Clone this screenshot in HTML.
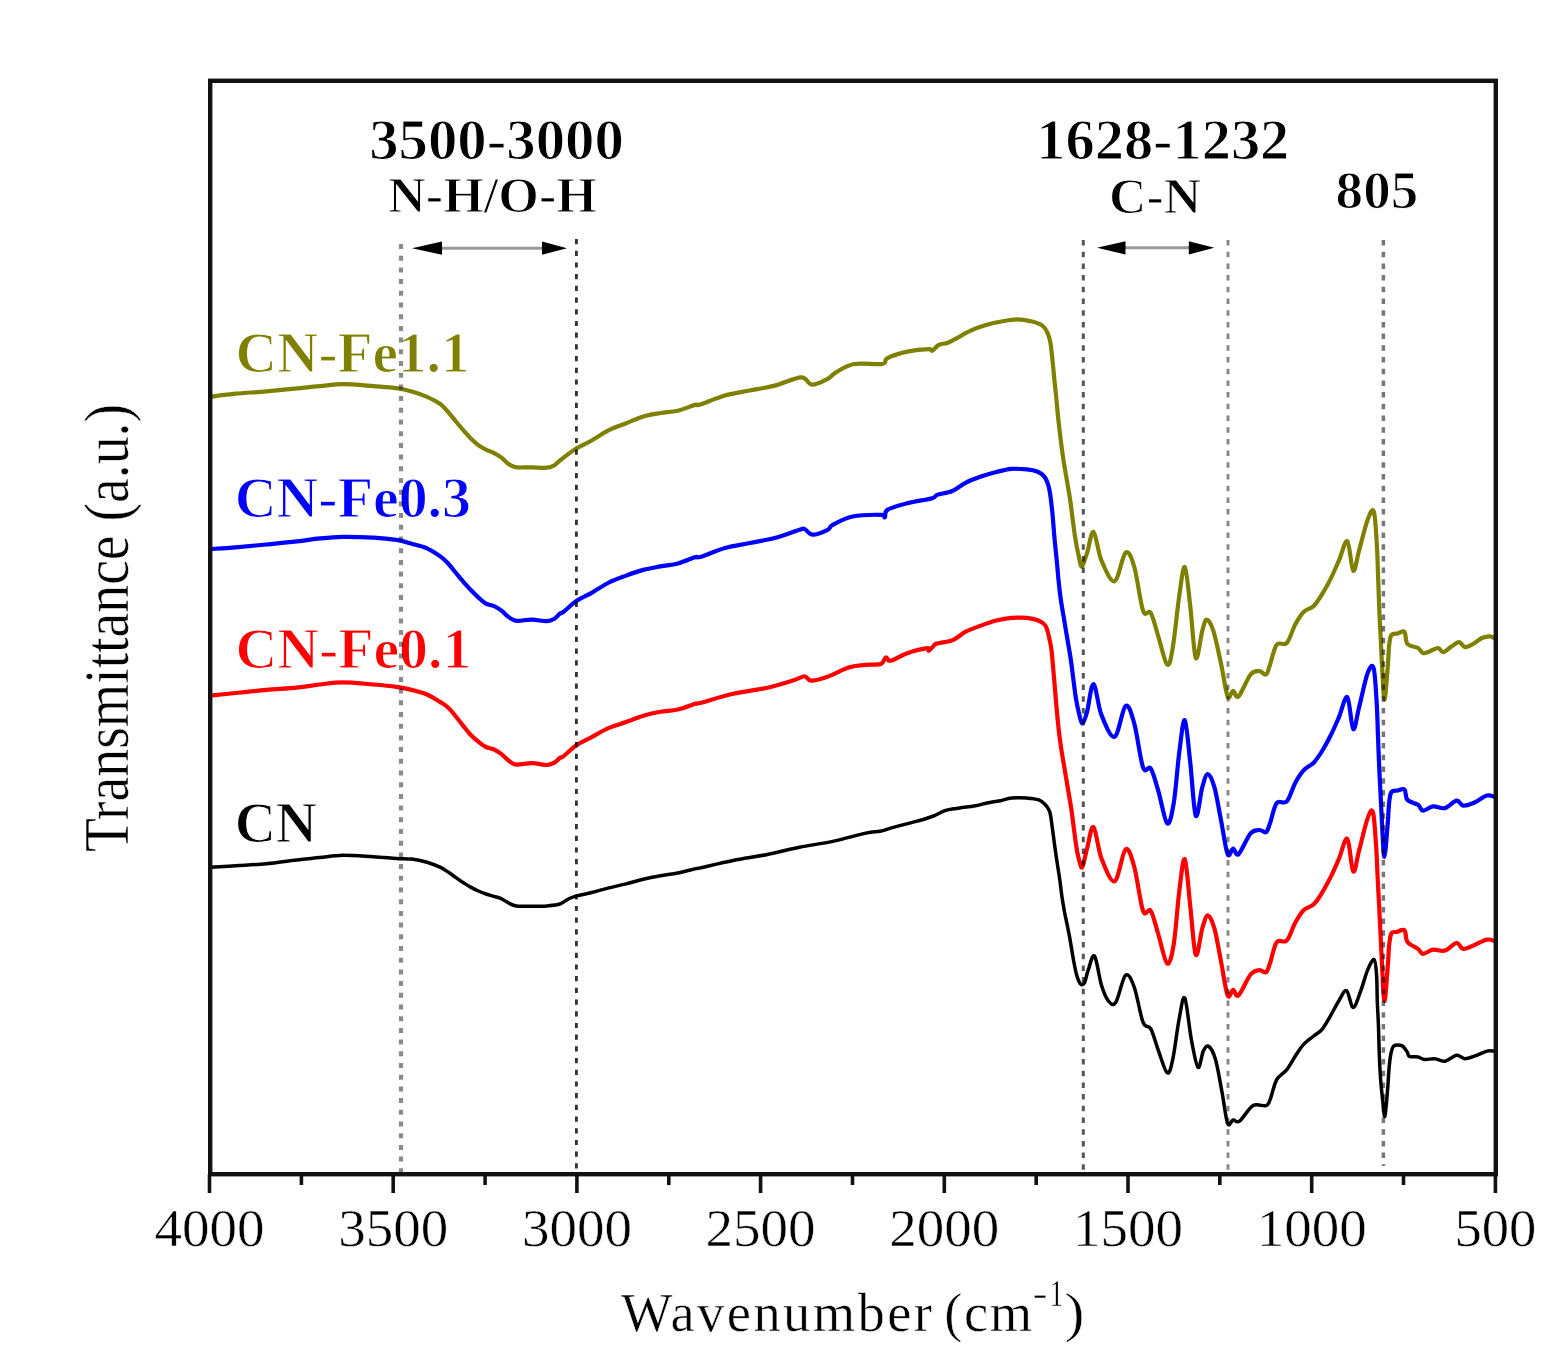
<!DOCTYPE html>
<html><head><meta charset="utf-8"><title>FTIR spectra</title>
<style>html,body{margin:0;padding:0;background:#fff;}body{width:1568px;height:1368px;overflow:hidden;}svg{display:block;}</style>
</head><body><div id="w"><svg width="1568" height="1368" viewBox="0 0 1568 1368" font-family="'Liberation Serif', 'Times New Roman', serif"><rect x="0" y="0" width="1568" height="1368" fill="#fff"/><path d="M210.2,396.8 C214.4,396.3 226.2,394.6 235.6,393.7 C244.9,392.8 256.1,392.3 266.3,391.4 C276.5,390.5 288.0,389.3 296.9,388.4 C305.8,387.5 312.1,386.8 319.8,386.1 C327.5,385.4 333.9,384.1 342.8,384.1 C351.7,384.1 364.5,385.4 373.4,386.1 C382.3,386.8 390.0,387.2 396.4,388.1 C402.8,389.0 406.6,389.9 411.7,391.4 C416.8,392.8 422.3,394.7 427.0,396.8 C431.7,398.9 436.6,401.4 440.0,403.8 C443.4,406.2 445.1,408.7 447.7,411.5 C450.2,414.3 452.8,417.6 455.3,420.7 C457.9,423.8 460.4,426.9 463.0,429.8 C465.6,432.7 468.1,435.8 470.6,438.3 C473.2,440.9 475.8,443.2 478.3,445.1 C480.9,447.0 483.3,448.4 485.9,449.7 C488.4,451.0 491.1,451.5 493.6,452.8 C496.2,454.1 498.6,455.5 501.2,457.4 C503.8,459.3 506.3,462.6 508.9,464.3 C511.4,466.0 512.7,466.8 516.5,467.3 C520.3,467.8 526.7,467.2 531.8,467.3 C536.9,467.4 543.3,468.1 547.1,467.7 C550.9,467.3 552.6,466.2 554.8,465.0 C556.9,463.8 556.7,462.9 560.0,460.4 C563.3,457.8 569.1,453.0 574.4,449.7 C579.7,446.4 586.0,443.8 591.7,440.5 C597.5,437.2 603.2,433.1 608.9,430.2 C614.6,427.3 620.4,425.6 626.1,423.3 C631.8,421.0 637.6,418.1 643.3,416.4 C649.0,414.7 654.8,413.9 660.5,413.0 C666.2,412.1 672.0,412.1 677.8,410.7 C683.5,409.3 691.3,405.9 695.0,404.9 C698.7,403.9 695.0,406.2 700.0,404.6 C705.0,403.0 716.6,397.9 724.9,395.5 C733.2,393.1 741.5,392.1 749.8,390.5 C758.1,388.9 766.0,387.8 774.6,385.6 C783.2,383.4 795.0,377.5 801.2,377.3 C807.4,377.1 807.5,384.4 811.9,384.7 C816.3,385.0 823.7,381.0 827.7,378.9 C831.7,376.8 831.6,374.8 836.0,372.3 C840.4,369.8 846.5,365.4 854.2,364.0 C861.9,362.6 876.9,365.0 882.4,364.0 C887.9,363.0 883.2,360.3 887.4,358.2 C891.5,356.1 900.4,353.1 907.3,351.6 C914.2,350.1 924.8,349.2 928.9,349.1 C933.0,349.0 930.6,351.4 932.2,350.7 C933.9,350.0 936.3,346.2 938.8,344.9 C941.3,343.6 944.5,343.9 947.3,342.9 C950.1,341.9 951.5,340.9 955.4,338.9 C959.3,336.9 965.6,333.0 970.7,330.7 C975.8,328.4 980.9,326.6 986.0,325.1 C991.1,323.6 996.3,322.4 1001.4,321.5 C1006.5,320.6 1011.7,319.4 1016.8,319.4 C1021.9,319.4 1027.8,320.5 1032.1,321.5 C1036.4,322.5 1039.8,323.7 1042.4,325.6 C1045.0,327.5 1046.2,329.9 1047.5,332.8 C1048.8,335.7 1049.7,338.2 1050.5,343.0 C1051.3,347.8 1051.9,354.9 1052.6,361.4 C1053.3,367.9 1053.9,375.1 1054.6,381.9 C1055.3,388.7 1056.1,396.0 1056.7,402.4 C1057.3,408.8 1057.7,413.8 1058.4,420.0 C1059.1,426.2 1059.9,433.1 1060.7,439.7 C1061.5,446.3 1062.4,452.9 1063.4,459.5 C1064.4,466.1 1065.6,472.6 1066.7,479.2 C1067.8,485.8 1069.0,492.3 1070.0,498.9 C1071.0,505.5 1071.7,512.1 1072.6,518.7 C1073.5,525.3 1074.3,532.3 1075.3,538.4 C1076.3,544.5 1077.5,550.8 1078.6,555.5 C1079.7,560.2 1080.4,566.9 1081.8,566.5 C1083.2,566.1 1085.1,558.6 1087.1,552.9 C1089.0,547.1 1091.1,530.8 1093.5,532.0 C1095.9,533.2 1097.9,552.2 1101.4,560.4 C1104.9,568.6 1110.6,582.5 1114.6,581.2 C1118.6,579.9 1122.3,555.1 1125.6,552.7 C1128.9,550.3 1131.4,557.3 1134.3,567.0 C1137.2,576.7 1140.3,603.1 1143.1,610.8 C1145.8,618.5 1148.2,608.6 1150.8,613.0 C1153.4,617.4 1155.8,628.5 1158.5,637.1 C1161.2,645.7 1164.8,662.8 1167.2,664.6 C1169.6,666.4 1170.7,659.6 1172.7,648.1 C1174.7,636.6 1177.3,609.0 1179.3,595.5 C1181.3,582.0 1183.0,565.2 1184.8,567.0 C1186.6,568.8 1188.5,591.2 1190.3,606.4 C1192.1,621.6 1193.8,654.0 1195.8,658.0 C1197.8,662.0 1200.5,637.0 1202.3,630.6 C1204.1,624.2 1204.9,619.6 1206.7,619.6 C1208.5,619.6 1210.9,623.3 1213.3,630.6 C1215.7,637.9 1218.6,652.5 1221.0,663.5 C1223.4,674.5 1225.6,691.8 1227.6,696.4 C1229.6,701.0 1231.3,690.9 1233.1,690.9 C1234.9,690.9 1235.7,699.1 1238.6,696.4 C1241.5,693.7 1247.1,678.7 1250.6,674.5 C1254.1,670.3 1256.8,671.2 1259.4,671.2 C1262.0,671.2 1264.2,675.6 1266.0,674.5 C1267.8,673.4 1268.2,669.8 1270.0,664.8 C1271.8,659.8 1273.9,648.3 1276.7,644.7 C1279.5,641.1 1283.7,646.4 1286.8,643.0 C1289.9,639.6 1292.4,629.7 1295.2,624.5 C1298.0,619.3 1300.5,615.0 1303.6,611.9 C1306.7,608.8 1310.6,609.0 1313.7,606.0 C1316.8,603.0 1319.3,598.7 1322.1,594.2 C1324.9,589.7 1327.7,584.7 1330.5,579.1 C1333.3,573.5 1336.1,566.9 1338.9,560.6 C1341.7,554.3 1344.9,539.6 1347.3,541.3 C1349.7,543.0 1351.2,569.2 1353.2,570.7 C1355.2,572.2 1356.7,558.9 1359.1,550.5 C1361.5,542.1 1365.0,526.8 1367.5,520.3 C1370.0,513.8 1372.2,507.2 1373.8,511.5 C1375.4,515.8 1376.2,535.1 1376.9,546.0 C1377.6,556.9 1377.7,566.5 1378.1,576.7 C1378.5,586.9 1378.8,597.2 1379.2,607.4 C1379.6,617.6 1380.2,627.8 1380.7,638.0 C1381.2,648.2 1381.6,658.5 1382.2,668.7 C1382.8,678.9 1383.6,699.4 1384.5,699.4 C1385.4,699.4 1386.8,677.7 1387.6,668.7 C1388.4,659.8 1388.5,651.3 1389.1,645.7 C1389.7,640.1 1390.0,637.0 1391.4,635.0 C1392.9,633.0 1395.6,634.0 1397.8,633.5 C1400.0,633.0 1402.9,630.1 1404.5,631.9 C1406.1,633.6 1405.2,641.3 1407.5,644.0 C1409.8,646.7 1415.4,646.5 1418.0,648.0 C1420.6,649.5 1421.0,652.5 1423.0,653.1 C1425.0,653.7 1427.2,652.2 1429.7,651.4 C1432.2,650.5 1435.8,647.9 1438.1,648.0 C1440.3,648.1 1441.0,652.5 1443.2,652.2 C1445.5,651.9 1448.9,648.1 1451.6,646.4 C1454.2,644.7 1456.9,642.0 1459.1,642.1 C1461.3,642.2 1462.6,646.9 1465.0,647.2 C1467.4,647.5 1470.6,645.3 1473.4,643.8 C1476.2,642.3 1479.0,639.2 1481.8,638.0 C1484.6,636.8 1488.0,636.2 1490.2,636.3 C1492.5,636.4 1494.5,638.4 1495.3,638.8" fill="none" stroke="#808000" stroke-width="4.2" stroke-linejoin="round" stroke-linecap="round"/><path d="M210.2,549.1 C214.4,548.8 226.2,548.1 235.6,547.3 C244.9,546.5 256.1,545.5 266.3,544.5 C276.5,543.5 288.0,542.4 296.9,541.4 C305.8,540.4 312.1,539.2 319.8,538.4 C327.5,537.6 333.9,536.9 342.8,536.8 C351.7,536.7 364.5,537.1 373.4,537.6 C382.3,538.1 390.0,538.9 396.4,539.9 C402.8,540.9 406.6,542.3 411.7,543.7 C416.8,545.1 422.3,546.2 427.0,548.3 C431.7,550.4 436.6,553.6 440.0,556.1 C443.4,558.6 445.1,560.3 447.7,563.0 C450.2,565.7 452.8,569.1 455.3,572.2 C457.9,575.3 460.4,578.5 463.0,581.4 C465.6,584.3 468.1,587.1 470.6,589.8 C473.2,592.5 475.8,595.1 478.3,597.4 C480.9,599.7 483.3,602.2 485.9,603.6 C488.4,605.0 491.1,604.8 493.6,605.9 C496.2,607.0 498.6,608.5 501.2,610.4 C503.8,612.3 506.3,615.6 508.9,617.3 C511.4,619.0 512.7,620.4 516.5,620.8 C520.3,621.2 526.7,619.5 531.8,619.6 C536.9,619.7 543.3,621.4 547.1,621.2 C550.9,621.0 552.6,619.8 554.8,618.5 C556.9,617.2 558.6,614.5 560.0,613.5 C561.4,612.5 560.2,614.4 563.0,612.3 C565.8,610.2 571.9,604.0 576.7,600.8 C581.5,597.5 586.3,595.8 591.7,592.8 C597.1,589.8 603.2,585.4 608.9,582.5 C614.6,579.6 620.4,577.7 626.1,575.6 C631.8,573.5 637.6,571.4 643.3,569.9 C649.0,568.4 654.8,567.5 660.5,566.4 C666.2,565.3 672.0,565.0 677.8,563.5 C683.5,562.0 691.3,558.3 695.0,557.2 C698.7,556.1 695.0,558.6 700.0,557.1 C705.0,555.6 716.6,550.4 724.9,548.0 C733.2,545.6 741.5,544.7 749.8,543.0 C758.1,541.3 766.3,540.2 774.6,538.0 C782.9,535.8 794.5,531.3 799.5,529.8 C804.5,528.3 802.3,528.1 804.5,528.9 C806.7,529.7 808.9,534.6 812.8,534.7 C816.7,534.9 824.4,531.4 827.7,529.8 C831.0,528.1 828.6,527.0 832.7,524.8 C836.9,522.6 844.6,518.2 852.6,516.5 C860.6,514.8 875.4,514.7 880.8,514.8 C886.2,514.9 883.8,518.1 884.9,517.3 C886.0,516.5 883.7,512.2 887.4,509.9 C891.1,507.5 899.8,505.1 907.3,503.2 C914.8,501.2 927.2,499.6 932.2,498.2 C937.2,496.8 933.9,496.1 937.2,494.9 C940.6,493.7 947.6,493.0 952.3,491.0 C957.0,489.0 960.8,485.2 965.6,482.8 C970.4,480.4 975.8,478.4 980.9,476.6 C986.0,474.8 991.2,473.3 996.3,472.0 C1001.4,470.7 1006.5,469.3 1011.6,468.9 C1016.7,468.5 1022.7,469.0 1027.0,469.4 C1031.3,469.8 1034.3,470.3 1037.2,471.5 C1040.1,472.7 1042.5,474.2 1044.4,476.6 C1046.3,479.0 1047.5,482.6 1048.5,485.8 C1049.5,489.0 1049.8,491.5 1050.4,496.0 C1051.1,500.5 1051.7,506.2 1052.4,513.0 C1053.1,519.8 1053.7,529.2 1054.4,537.0 C1055.1,544.8 1056.0,553.0 1056.7,560.0 C1057.4,567.0 1057.8,572.7 1058.4,579.0 C1059.1,585.3 1059.6,591.2 1060.6,598.0 C1061.5,604.8 1063.0,612.6 1064.1,619.5 C1065.2,626.4 1066.3,632.6 1067.4,639.2 C1068.5,645.8 1069.7,652.3 1070.7,658.9 C1071.7,665.5 1072.4,672.1 1073.3,678.7 C1074.2,685.3 1074.9,692.5 1075.9,698.4 C1076.9,704.3 1078.1,710.0 1079.2,714.2 C1080.3,718.4 1081.2,723.8 1082.5,723.4 C1083.8,723.0 1085.3,718.2 1087.1,711.6 C1088.9,705.0 1091.1,683.5 1093.5,684.0 C1095.9,684.5 1097.9,706.0 1101.4,714.8 C1104.9,723.6 1110.6,738.2 1114.6,736.7 C1118.6,735.2 1122.3,708.2 1125.6,706.0 C1128.9,703.8 1131.4,713.4 1134.3,723.6 C1137.2,733.9 1140.3,760.0 1143.1,767.5 C1145.8,775.0 1148.2,764.6 1150.8,768.6 C1153.4,772.6 1155.8,782.5 1158.5,791.6 C1161.2,800.7 1164.7,821.6 1167.2,823.4 C1169.8,825.2 1171.8,814.5 1173.8,802.6 C1175.8,790.7 1177.5,765.8 1179.3,752.1 C1181.1,738.4 1183.0,718.5 1184.8,720.3 C1186.6,722.1 1188.5,747.2 1190.3,763.1 C1192.1,779.0 1193.8,811.7 1195.8,815.7 C1197.8,819.7 1200.3,794.2 1202.3,787.2 C1204.3,780.2 1205.8,774.0 1207.8,774.0 C1209.8,774.0 1212.2,779.5 1214.4,787.2 C1216.6,794.9 1218.8,809.0 1221.0,820.1 C1223.2,831.2 1225.6,849.4 1227.6,854.1 C1229.6,858.9 1231.3,848.6 1233.1,848.6 C1234.9,848.6 1235.7,856.7 1238.6,854.1 C1241.5,851.5 1247.1,837.3 1250.6,833.3 C1254.1,829.3 1256.8,830.2 1259.4,830.0 C1262.0,829.8 1264.2,833.3 1266.0,832.2 C1267.8,831.1 1268.2,828.1 1270.0,823.3 C1271.8,818.4 1273.9,806.8 1276.7,803.1 C1279.5,799.5 1283.7,804.8 1286.8,801.4 C1289.9,798.0 1292.4,788.1 1295.2,782.9 C1298.0,777.7 1300.5,773.7 1303.6,770.3 C1306.7,766.9 1310.6,765.9 1313.7,762.7 C1316.8,759.5 1319.3,755.5 1322.1,751.0 C1324.9,746.5 1327.7,741.4 1330.5,735.8 C1333.3,730.2 1336.1,723.7 1338.9,717.3 C1341.7,710.9 1344.9,695.2 1347.3,697.2 C1349.7,699.2 1351.2,727.4 1353.2,729.1 C1355.2,730.8 1356.7,716.5 1359.1,707.2 C1361.5,698.0 1365.1,680.1 1367.5,673.6 C1369.9,667.1 1372.1,663.1 1373.6,668.0 C1375.1,672.9 1376.0,692.0 1376.7,703.0 C1377.4,714.0 1377.5,723.5 1377.9,733.7 C1378.3,743.9 1378.6,754.2 1379.1,764.4 C1379.5,774.6 1380.1,784.8 1380.6,795.0 C1381.1,805.2 1381.5,815.4 1382.1,825.7 C1382.7,836.0 1383.5,857.0 1384.4,856.9 C1385.3,856.8 1386.8,834.0 1387.6,825.0 C1388.4,816.0 1388.5,808.5 1389.1,803.0 C1389.7,797.5 1390.0,794.1 1391.4,792.0 C1392.9,789.9 1395.6,790.9 1397.8,790.5 C1400.0,790.1 1402.9,788.0 1404.5,789.6 C1406.1,791.2 1405.2,797.5 1407.5,800.0 C1409.8,802.5 1415.4,803.0 1418.0,804.8 C1420.6,806.6 1420.5,810.3 1423.0,810.6 C1425.5,810.9 1429.5,806.8 1433.1,806.4 C1436.7,806.0 1440.9,809.1 1444.8,808.1 C1448.7,807.1 1453.5,801.0 1456.6,800.6 C1459.7,800.2 1460.2,805.3 1463.3,805.6 C1466.4,805.9 1471.2,803.9 1475.1,802.2 C1479.0,800.5 1483.5,796.3 1486.9,795.5 C1490.3,794.7 1493.9,796.9 1495.3,797.2" fill="none" stroke="#0000ff" stroke-width="4.2" stroke-linejoin="round" stroke-linecap="round"/><path d="M210.2,695.7 C214.4,695.2 226.2,694.0 235.6,693.0 C244.9,692.0 256.1,690.8 266.3,689.9 C276.5,689.0 288.0,688.5 296.9,687.6 C305.8,686.7 312.1,685.4 319.8,684.5 C327.5,683.6 333.9,682.3 342.8,682.3 C351.7,682.3 364.5,683.8 373.4,684.5 C382.3,685.2 390.0,685.9 396.4,686.8 C402.8,687.7 406.6,688.6 411.7,689.9 C416.8,691.2 422.3,692.5 427.0,694.5 C431.7,696.5 436.6,699.8 440.0,701.9 C443.4,704.0 445.1,704.9 447.7,707.2 C450.2,709.5 452.8,712.6 455.3,715.7 C457.9,718.8 460.4,722.4 463.0,725.6 C465.6,728.8 468.1,732.1 470.6,734.8 C473.2,737.5 475.8,739.7 478.3,741.7 C480.9,743.7 483.3,745.7 485.9,747.0 C488.4,748.3 491.1,748.1 493.6,749.3 C496.2,750.4 498.6,752.0 501.2,753.9 C503.8,755.8 506.3,759.0 508.9,760.8 C511.4,762.6 512.7,764.2 516.5,764.6 C520.3,765.0 526.7,763.0 531.8,763.1 C536.9,763.2 543.3,765.1 547.1,765.0 C550.9,764.9 552.6,763.5 554.8,762.3 C556.9,761.1 558.6,758.7 560.0,757.7 C561.4,756.8 560.2,758.7 563.0,756.6 C565.8,754.5 571.9,748.4 576.7,745.1 C581.5,741.9 586.3,740.0 591.7,737.1 C597.1,734.2 603.2,730.4 608.9,727.9 C614.6,725.4 620.4,724.1 626.1,722.1 C631.8,720.1 637.6,717.5 643.3,715.8 C649.0,714.1 654.8,712.8 660.5,711.8 C666.2,710.8 672.0,710.8 677.8,709.5 C683.5,708.2 691.3,704.9 695.0,703.8 C698.7,702.7 693.6,704.7 700.0,703.0 C706.4,701.3 722.2,696.3 733.2,693.8 C744.2,691.3 756.3,690.2 766.3,688.0 C776.2,685.8 786.5,682.5 792.9,680.6 C799.3,678.7 801.5,676.4 804.5,676.4 C807.5,676.4 807.5,680.5 811.1,680.6 C814.7,680.8 819.6,679.5 826.0,677.3 C832.4,675.1 842.7,669.4 849.3,667.3 C855.9,665.2 860.5,665.3 865.8,664.8 C871.0,664.2 877.5,665.2 880.8,664.0 C884.1,662.8 884.1,657.9 885.7,657.4 C887.4,656.9 887.1,661.4 890.7,660.7 C894.3,660.0 901.2,655.3 907.3,653.2 C913.4,651.1 923.6,648.6 927.2,648.2 C930.8,647.8 927.5,651.4 928.9,650.7 C930.3,650.0 933.6,645.4 935.5,644.1 C937.4,642.8 937.0,643.7 940.0,643.0 C943.0,642.3 949.0,641.8 953.3,639.9 C957.6,638.0 961.0,634.1 965.6,631.7 C970.2,629.3 975.8,627.5 980.9,625.6 C986.0,623.7 991.2,621.8 996.3,620.5 C1001.4,619.2 1006.5,618.3 1011.6,617.9 C1016.7,617.5 1022.5,617.5 1027.0,617.9 C1031.5,618.3 1035.2,619.2 1038.3,620.5 C1041.4,621.8 1043.7,623.2 1045.4,625.6 C1047.1,628.0 1047.5,630.7 1048.5,634.8 C1049.5,638.9 1050.8,645.1 1051.5,650.0 C1052.2,654.9 1052.3,658.7 1052.8,664.0 C1053.3,669.3 1053.8,675.0 1054.4,682.0 C1055.0,689.0 1055.7,697.9 1056.4,706.0 C1057.1,714.1 1058.0,723.2 1058.8,730.5 C1059.6,737.8 1060.4,743.2 1061.4,749.7 C1062.4,756.2 1063.6,762.9 1064.7,769.5 C1065.8,776.1 1066.9,782.6 1068.0,789.2 C1069.1,795.8 1070.3,802.3 1071.3,808.9 C1072.3,815.5 1073.0,822.1 1073.9,828.7 C1074.8,835.3 1075.6,842.7 1076.6,848.4 C1077.6,854.1 1078.9,859.8 1079.9,862.9 C1080.9,866.0 1081.3,869.2 1082.5,866.8 C1083.7,864.4 1085.3,855.0 1087.1,848.4 C1088.9,841.8 1091.1,825.4 1093.5,827.0 C1095.9,828.6 1097.9,849.2 1101.4,858.2 C1104.9,867.2 1110.6,882.8 1114.6,881.3 C1118.6,879.8 1122.3,851.8 1125.6,849.4 C1128.9,847.0 1131.4,856.8 1134.3,867.0 C1137.2,877.2 1140.3,903.6 1143.1,910.9 C1145.8,918.2 1148.2,906.9 1150.8,910.9 C1153.4,914.9 1155.8,926.2 1158.5,935.0 C1161.2,943.8 1164.7,962.0 1167.2,963.5 C1169.8,965.0 1171.8,955.9 1173.8,943.8 C1175.8,931.7 1177.5,905.2 1179.3,891.1 C1181.1,877.0 1183.0,856.7 1184.8,859.3 C1186.6,861.9 1188.5,890.6 1190.3,906.5 C1192.1,922.4 1193.8,951.1 1195.8,954.8 C1197.8,958.4 1200.3,935.0 1202.3,928.4 C1204.3,921.8 1205.8,915.3 1207.8,915.3 C1209.8,915.3 1212.2,920.7 1214.4,928.4 C1216.6,936.1 1218.8,950.1 1221.0,961.3 C1223.2,972.4 1225.6,990.5 1227.6,995.3 C1229.6,1000.1 1231.3,989.9 1233.1,989.9 C1234.9,989.9 1235.7,997.9 1238.6,995.3 C1241.5,992.7 1247.1,978.7 1250.6,974.5 C1254.1,970.3 1256.8,970.5 1259.4,970.1 C1262.0,969.7 1264.2,973.4 1266.0,972.3 C1267.8,971.1 1268.2,968.2 1270.0,963.2 C1271.8,958.2 1273.9,946.0 1276.7,942.2 C1279.5,938.4 1283.7,943.7 1286.8,940.5 C1289.9,937.3 1292.4,927.8 1295.2,922.8 C1298.0,917.8 1300.5,913.3 1303.6,910.2 C1306.7,907.1 1310.6,907.2 1313.7,904.3 C1316.8,901.4 1319.3,897.1 1322.1,892.6 C1324.9,888.1 1327.7,883.0 1330.5,877.4 C1333.3,871.8 1336.1,865.3 1338.9,858.9 C1341.7,852.5 1344.9,836.7 1347.3,838.8 C1349.7,840.9 1351.2,869.5 1353.2,871.5 C1355.2,873.5 1356.7,859.3 1359.1,850.5 C1361.5,841.7 1365.2,825.0 1367.5,818.6 C1369.8,812.2 1371.6,807.7 1373.0,812.3 C1374.4,816.9 1375.3,835.3 1376.1,846.0 C1376.9,856.7 1377.1,866.5 1377.6,876.7 C1378.1,886.9 1378.7,897.2 1379.2,907.4 C1379.7,917.6 1380.2,927.8 1380.7,938.0 C1381.2,948.2 1381.6,958.2 1382.2,968.7 C1382.8,979.2 1383.6,1001.0 1384.5,1001.0 C1385.4,1001.0 1386.8,977.9 1387.6,968.7 C1388.4,959.5 1388.5,951.6 1389.1,945.7 C1389.7,939.8 1390.1,935.7 1391.4,933.4 C1392.7,931.1 1394.6,932.4 1396.8,931.9 C1399.0,931.4 1402.7,928.7 1404.5,930.4 C1406.3,932.1 1405.2,938.9 1407.5,942.0 C1409.8,945.1 1415.4,946.9 1418.0,948.9 C1420.6,950.9 1420.5,953.8 1423.0,953.9 C1425.5,954.0 1429.5,950.2 1433.1,949.7 C1436.7,949.2 1440.9,951.7 1444.8,950.6 C1448.7,949.5 1453.5,943.3 1456.6,943.0 C1459.7,942.7 1460.2,948.6 1463.3,948.9 C1466.4,949.2 1471.2,946.2 1475.1,944.7 C1479.0,943.2 1483.5,940.2 1486.9,939.6 C1490.3,939.0 1493.9,941.0 1495.3,941.3" fill="none" stroke="#ff0000" stroke-width="4.2" stroke-linejoin="round" stroke-linecap="round"/><path d="M210.2,867.3 C214.4,867.0 226.2,866.3 235.6,865.7 C244.9,865.1 256.1,864.7 266.3,863.7 C276.5,862.7 288.0,860.9 296.9,859.9 C305.8,858.9 312.1,858.4 319.8,857.6 C327.5,856.8 333.9,855.4 342.8,855.3 C351.7,855.2 364.5,856.3 373.4,856.8 C382.3,857.3 390.0,858.0 396.4,858.4 C402.8,858.8 406.6,858.5 411.7,859.1 C416.8,859.7 422.3,860.9 427.0,862.2 C431.7,863.6 436.6,865.6 440.0,867.2 C443.4,868.8 445.1,870.1 447.7,871.8 C450.2,873.5 452.8,875.4 455.3,877.2 C457.9,879.0 460.4,880.9 463.0,882.5 C465.6,884.1 468.1,885.7 470.6,887.1 C473.2,888.5 475.8,889.9 478.3,891.0 C480.9,892.1 483.3,893.1 485.9,894.0 C488.4,894.9 491.1,895.5 493.6,896.3 C496.2,897.1 498.6,897.5 501.2,898.6 C503.8,899.8 506.3,902.0 508.9,903.2 C511.4,904.4 512.7,905.4 516.5,905.9 C520.3,906.4 526.7,906.3 531.8,906.3 C536.9,906.3 542.4,906.3 547.1,905.9 C551.8,905.5 556.4,905.2 560.0,904.0 C563.6,902.8 565.9,900.1 568.7,898.8 C571.5,897.4 572.9,896.9 576.7,895.9 C580.5,894.9 586.3,893.8 591.7,892.5 C597.1,891.2 603.2,889.3 608.9,887.9 C614.6,886.5 620.4,885.3 626.1,883.9 C631.8,882.5 637.6,880.6 643.3,879.3 C649.0,877.9 654.8,876.8 660.5,875.8 C666.2,874.8 672.0,874.1 677.8,873.0 C683.5,871.9 691.3,869.8 695.0,868.9 C698.7,868.0 693.6,869.3 700.0,867.9 C706.4,866.5 722.2,862.7 733.2,860.5 C744.2,858.3 755.2,856.9 766.3,854.7 C777.3,852.5 788.4,849.4 799.5,847.2 C810.6,845.0 821.7,843.8 832.7,841.4 C843.8,839.0 857.9,834.8 865.8,833.1 C873.7,831.4 875.7,832.2 880.0,831.3 C884.3,830.4 886.4,829.3 891.5,827.9 C896.6,826.5 905.5,824.2 910.6,822.9 C915.7,821.5 918.3,820.9 922.1,819.8 C925.9,818.6 929.8,817.5 933.6,816.0 C937.4,814.5 941.2,812.0 945.0,810.7 C948.8,809.4 951.4,809.2 956.5,808.4 C961.6,807.6 970.5,806.6 975.6,805.7 C980.7,804.8 983.0,803.8 987.1,803.0 C991.2,802.2 995.9,801.5 1000.0,800.7 C1004.1,799.9 1007.1,798.5 1011.6,798.1 C1016.1,797.7 1022.5,797.8 1027.0,798.1 C1031.5,798.4 1035.2,798.6 1038.3,799.7 C1041.4,800.8 1043.5,802.8 1045.4,804.8 C1047.3,806.8 1048.7,808.3 1049.8,812.0 C1050.9,815.7 1051.4,821.5 1052.2,827.0 C1053.0,832.5 1053.8,839.0 1054.6,845.0 C1055.4,851.0 1056.3,857.2 1057.2,863.0 C1058.1,868.8 1059.0,874.3 1059.8,880.0 C1060.6,885.7 1061.2,891.7 1062.0,897.0 C1062.8,902.3 1063.7,907.5 1064.5,912.0 C1065.3,916.5 1066.1,919.5 1067.0,924.0 C1067.9,928.5 1069.0,933.4 1070.0,939.2 C1071.0,945.0 1072.2,953.0 1073.3,958.9 C1074.4,964.8 1075.4,970.5 1076.6,974.7 C1077.8,978.9 1079.2,982.6 1080.5,983.9 C1081.8,985.2 1083.2,985.0 1084.5,982.6 C1085.8,980.2 1086.7,973.9 1088.4,969.5 C1090.1,965.1 1092.3,953.4 1094.5,956.0 C1096.7,958.6 1099.2,977.7 1101.4,985.1 C1103.7,992.5 1105.6,997.5 1108.0,1000.4 C1110.4,1003.3 1112.8,1006.8 1115.7,1002.6 C1118.6,998.4 1122.5,977.8 1125.6,975.2 C1128.7,972.7 1131.4,979.4 1134.3,987.3 C1137.2,995.2 1140.3,1015.5 1143.1,1022.4 C1145.8,1029.3 1148.2,1024.2 1150.8,1028.9 C1153.4,1033.7 1155.8,1043.6 1158.5,1050.9 C1161.2,1058.2 1164.8,1071.3 1167.2,1072.8 C1169.6,1074.2 1170.7,1068.7 1172.7,1059.6 C1174.7,1050.5 1177.3,1028.2 1179.3,1018.0 C1181.3,1007.8 1182.8,994.6 1184.8,998.2 C1186.8,1001.9 1189.2,1028.4 1191.4,1039.9 C1193.6,1051.4 1196.0,1065.5 1198.0,1067.3 C1200.0,1069.1 1201.6,1054.4 1203.4,1050.9 C1205.2,1047.4 1206.9,1045.0 1208.9,1046.5 C1210.9,1048.0 1213.3,1051.9 1215.5,1059.6 C1217.7,1067.3 1220.1,1082.0 1222.1,1092.6 C1224.1,1103.2 1225.8,1118.7 1227.6,1123.3 C1229.4,1127.9 1231.1,1120.4 1233.1,1120.0 C1235.1,1119.6 1236.3,1123.5 1239.6,1121.1 C1242.9,1118.7 1248.4,1108.3 1252.8,1105.7 C1257.2,1103.1 1263.1,1106.7 1266.0,1105.7 C1268.9,1104.7 1268.2,1104.2 1270.0,1099.9 C1271.8,1095.6 1273.9,1084.8 1276.7,1079.7 C1279.5,1074.7 1283.7,1073.5 1286.8,1069.6 C1289.9,1065.7 1292.4,1060.4 1295.2,1056.2 C1298.0,1052.0 1300.5,1047.8 1303.6,1044.4 C1306.7,1041.0 1310.6,1038.5 1313.7,1036.0 C1316.8,1033.5 1319.3,1032.7 1322.1,1029.3 C1324.9,1025.9 1327.7,1020.6 1330.5,1015.8 C1333.3,1011.0 1336.2,1004.9 1338.9,1000.7 C1341.6,996.5 1344.1,989.5 1346.5,990.6 C1348.9,991.7 1350.8,1007.4 1353.2,1007.4 C1355.6,1007.4 1358.4,996.8 1360.8,990.6 C1363.2,984.4 1365.3,975.6 1367.5,970.4 C1369.7,965.2 1372.6,958.7 1374.1,959.6 C1375.6,960.5 1376.1,968.7 1376.6,975.6 C1377.1,982.5 1377.0,992.7 1377.3,1001.2 C1377.6,1009.7 1378.2,1018.2 1378.5,1026.7 C1378.8,1035.2 1378.9,1043.8 1379.2,1052.3 C1379.5,1060.8 1379.9,1069.4 1380.5,1077.9 C1381.1,1086.4 1382.3,1097.1 1383.0,1103.5 C1383.7,1109.9 1384.2,1118.3 1384.9,1116.2 C1385.7,1114.1 1386.8,1098.2 1387.5,1090.7 C1388.2,1083.2 1388.3,1077.5 1388.8,1071.5 C1389.3,1065.5 1389.8,1059.2 1390.7,1054.9 C1391.6,1050.6 1392.0,1047.4 1393.9,1045.9 C1395.8,1044.4 1400.0,1044.8 1402.2,1045.9 C1404.4,1047.0 1406.1,1050.5 1407.3,1052.3 C1408.5,1054.1 1407.7,1055.7 1409.5,1056.5 C1411.3,1057.3 1415.5,1056.5 1418.0,1057.0 C1420.5,1057.5 1421.9,1059.2 1424.7,1059.5 C1427.5,1059.8 1431.5,1058.4 1434.8,1058.7 C1438.1,1059.0 1441.2,1061.8 1444.8,1061.2 C1448.4,1060.6 1453.2,1055.7 1456.6,1055.3 C1460.0,1054.9 1461.6,1058.7 1465.0,1058.7 C1468.4,1058.7 1473.1,1056.6 1476.8,1055.3 C1480.5,1054.0 1484.1,1051.8 1486.9,1051.1 C1489.7,1050.4 1492.5,1051.1 1493.6,1051.1" fill="none" stroke="#000000" stroke-width="3.5" stroke-linejoin="round" stroke-linecap="round"/><rect x="210.2" y="80.8" width="1285.6" height="1093.4" fill="none" stroke="#111" stroke-width="4.4"/><line x1="209.5" y1="1174.2" x2="209.5" y2="1193" stroke="#111" stroke-width="3.6"/><line x1="301.4" y1="1174.2" x2="301.4" y2="1185" stroke="#111" stroke-width="3.6"/><line x1="393.2" y1="1174.2" x2="393.2" y2="1193" stroke="#111" stroke-width="3.6"/><line x1="485.1" y1="1174.2" x2="485.1" y2="1185" stroke="#111" stroke-width="3.6"/><line x1="576.9" y1="1174.2" x2="576.9" y2="1193" stroke="#111" stroke-width="3.6"/><line x1="668.8" y1="1174.2" x2="668.8" y2="1185" stroke="#111" stroke-width="3.6"/><line x1="760.6" y1="1174.2" x2="760.6" y2="1193" stroke="#111" stroke-width="3.6"/><line x1="852.5" y1="1174.2" x2="852.5" y2="1185" stroke="#111" stroke-width="3.6"/><line x1="944.3" y1="1174.2" x2="944.3" y2="1193" stroke="#111" stroke-width="3.6"/><line x1="1036.2" y1="1174.2" x2="1036.2" y2="1185" stroke="#111" stroke-width="3.6"/><line x1="1128.0" y1="1174.2" x2="1128.0" y2="1193" stroke="#111" stroke-width="3.6"/><line x1="1219.8" y1="1174.2" x2="1219.8" y2="1185" stroke="#111" stroke-width="3.6"/><line x1="1311.7" y1="1174.2" x2="1311.7" y2="1193" stroke="#111" stroke-width="3.6"/><line x1="1403.5" y1="1174.2" x2="1403.5" y2="1185" stroke="#111" stroke-width="3.6"/><line x1="1495.4" y1="1174.2" x2="1495.4" y2="1193" stroke="#111" stroke-width="3.6"/><text x="209.5" y="1245.5" font-size="52.5" text-anchor="middle" fill="#000" stroke="#fff" stroke-width="0.5" textLength="110" lengthAdjust="spacingAndGlyphs">4000</text><text x="393.2" y="1245.5" font-size="52.5" text-anchor="middle" fill="#000" stroke="#fff" stroke-width="0.5" textLength="110" lengthAdjust="spacingAndGlyphs">3500</text><text x="576.9" y="1245.5" font-size="52.5" text-anchor="middle" fill="#000" stroke="#fff" stroke-width="0.5" textLength="110" lengthAdjust="spacingAndGlyphs">3000</text><text x="760.6" y="1245.5" font-size="52.5" text-anchor="middle" fill="#000" stroke="#fff" stroke-width="0.5" textLength="110" lengthAdjust="spacingAndGlyphs">2500</text><text x="944.3" y="1245.5" font-size="52.5" text-anchor="middle" fill="#000" stroke="#fff" stroke-width="0.5" textLength="110" lengthAdjust="spacingAndGlyphs">2000</text><text x="1128.0" y="1245.5" font-size="52.5" text-anchor="middle" fill="#000" stroke="#fff" stroke-width="0.5" textLength="110" lengthAdjust="spacingAndGlyphs">1500</text><text x="1311.7" y="1245.5" font-size="52.5" text-anchor="middle" fill="#000" stroke="#fff" stroke-width="0.5" textLength="110" lengthAdjust="spacingAndGlyphs">1000</text><text x="1495.4" y="1245.5" font-size="52.5" text-anchor="middle" fill="#000" stroke="#fff" stroke-width="0.5" textLength="82" lengthAdjust="spacingAndGlyphs">500</text><text x="369.2" y="158.7" font-size="57.3" font-weight="bold" fill="#000" stroke="#fff" stroke-width="1.1" textLength="254.6" lengthAdjust="spacingAndGlyphs">3500-3000</text><text x="388" y="211.5" font-size="50" font-weight="bold" fill="#000" stroke="#fff" stroke-width="1.1" textLength="209" lengthAdjust="spacingAndGlyphs">N-H/O-H</text><text x="1036.3" y="158.7" font-size="57.2" font-weight="bold" fill="#000" stroke="#fff" stroke-width="1.1" textLength="253" lengthAdjust="spacingAndGlyphs">1628-1232</text><text x="1109.1" y="213.3" font-size="51.3" font-weight="bold" fill="#000" stroke="#fff" stroke-width="1.1" textLength="91.9" lengthAdjust="spacingAndGlyphs">C-N</text><text x="1335.6" y="208.2" font-size="52" font-weight="bold" fill="#000" stroke="#fff" stroke-width="1.1" textLength="82.6" lengthAdjust="spacingAndGlyphs">805</text><text x="235.6" y="371.5" font-size="56" font-weight="bold" fill="#808000" stroke="#fff" stroke-width="1.1" textLength="234" lengthAdjust="spacingAndGlyphs">CN-Fe1.1</text><text x="234.8" y="517.3" font-size="56" font-weight="bold" fill="#0000ff" stroke="#fff" stroke-width="1.1" textLength="236.2" lengthAdjust="spacingAndGlyphs">CN-Fe0.3</text><text x="235.6" y="667.8" font-size="56" font-weight="bold" fill="#ff0000" stroke="#fff" stroke-width="1.1" textLength="235.7" lengthAdjust="spacingAndGlyphs">CN-Fe0.1</text><text x="234.7" y="841.8" font-size="56" font-weight="bold" fill="#000" stroke="#fff" stroke-width="1.1" textLength="82.3" lengthAdjust="spacingAndGlyphs">CN</text><text x="621" y="1330.5" font-size="54.5" fill="#000" stroke="#fff" stroke-width="0.5" textLength="311" lengthAdjust="spacing">Wavenumber</text><text x="944.2" y="1330.5" font-size="54.5" fill="#000" stroke="#fff" stroke-width="0.5" textLength="88" lengthAdjust="spacing">(cm</text><text x="1032.5" y="1305.7" font-size="38" fill="#000" stroke="#fff" stroke-width="0.5" textLength="15" lengthAdjust="spacingAndGlyphs">-</text><text x="1049.5" y="1305.7" font-size="38" fill="#000" stroke="#fff" stroke-width="0.5" textLength="14" lengthAdjust="spacingAndGlyphs">1</text><text x="1064.5" y="1330.5" font-size="54.5" fill="#000" stroke="#fff" stroke-width="0.5" textLength="20" lengthAdjust="spacingAndGlyphs">)</text><text transform="translate(127.9,852) rotate(-90)" x="0" y="0" font-size="63.3" fill="#000" stroke="#fff" stroke-width="0.5" textLength="448" lengthAdjust="spacingAndGlyphs">Transmittance (a.u.)</text><line x1="401" y1="244" x2="401" y2="1172" stroke="#8a8a8a" stroke-width="4.2" stroke-dasharray="5 6.7" style="mix-blend-mode:multiply"/><line x1="576.4" y1="239" x2="576.4" y2="1172" stroke="#303030" stroke-width="2.8" stroke-dasharray="5.2 6.5" style="mix-blend-mode:multiply"/><line x1="1083.3" y1="240" x2="1083.3" y2="1172" stroke="#555" stroke-width="3" stroke-dasharray="5.5 6.2" style="mix-blend-mode:multiply"/><line x1="1228" y1="240" x2="1228" y2="1172" stroke="#8a8a8a" stroke-width="3" stroke-dasharray="5.5 6.2" style="mix-blend-mode:multiply"/><line x1="1383.4" y1="240" x2="1383.4" y2="1166" stroke="#777" stroke-width="3.5" stroke-dasharray="5.5 6.2" style="mix-blend-mode:multiply"/><line x1="438" y1="248.2" x2="546" y2="248.2" stroke="#999" stroke-width="3"/><polygon points="412,248.2 442.0,241.6 442.0,254.8" fill="#000"/><polygon points="567,248.2 542.0,241.6 542.0,254.8" fill="#000"/><line x1="1121.5" y1="247.8" x2="1192.8" y2="247.8" stroke="#999" stroke-width="3"/><polygon points="1097,247.8 1125.5,241.2 1125.5,254.4" fill="#000"/><polygon points="1214.3,247.8 1188.8,241.2 1188.8,254.4" fill="#000"/></svg></div></body></html>
